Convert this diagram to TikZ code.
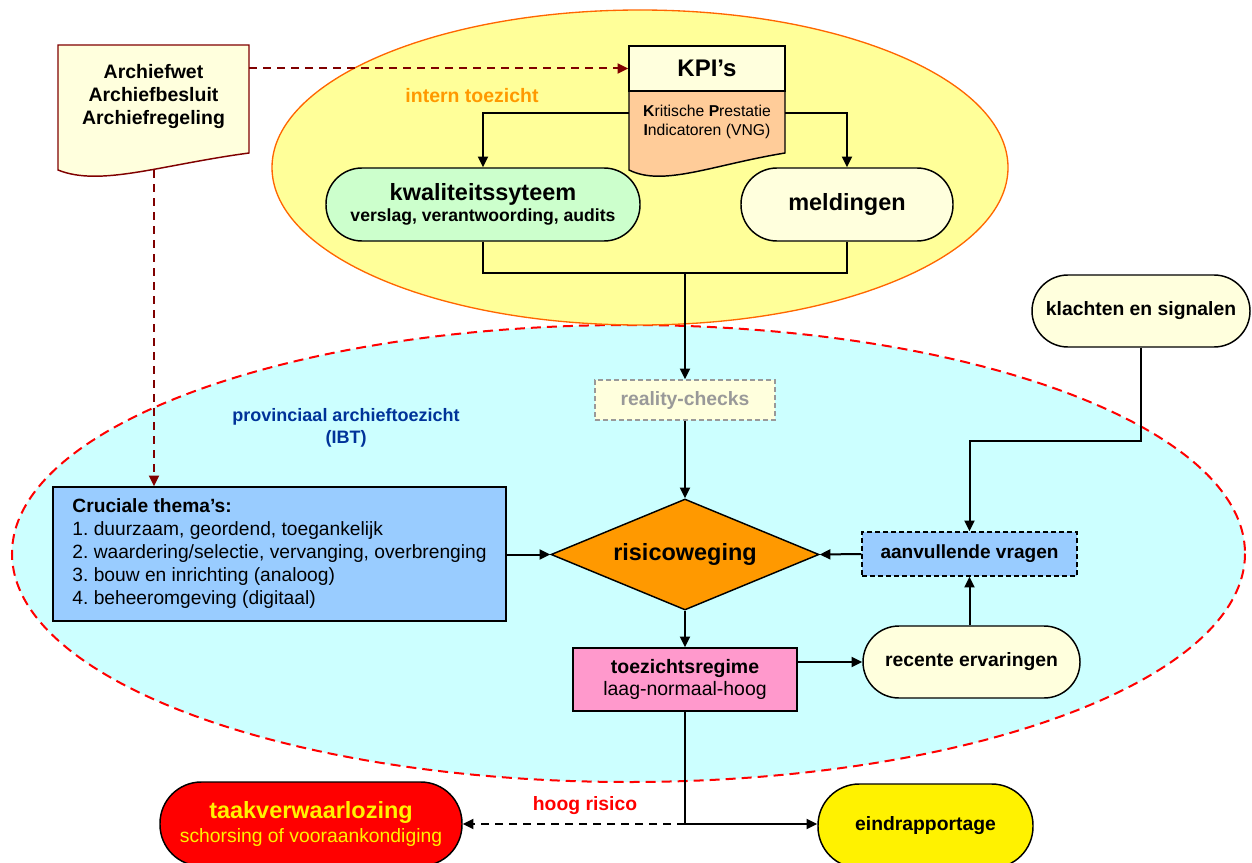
\documentclass[tikz,border=0pt]{standalone}
\usepackage{fontspec}
\setmainfont{Liberation Sans}
\usetikzlibrary{shapes.geometric,arrows.meta,calc}
\definecolor{ellyellow}{HTML}{FFFF99}
\definecolor{ellorange}{HTML}{FF6600}
\definecolor{ellcyan}{HTML}{CCFFFF}
\definecolor{docyellow}{HTML}{FFFFDD}
\definecolor{darkred}{HTML}{800000}
\definecolor{peach}{HTML}{FFCC99}
\definecolor{lgreen}{HTML}{CCFFCC}
\definecolor{lblue}{HTML}{99CCFF}
\definecolor{dorange}{HTML}{FF9900}
\definecolor{pinkbox}{HTML}{FF99CC}
\definecolor{greytxt}{HTML}{999999}
\definecolor{navy}{HTML}{003399}
\newcommand{\fsz}[2]{\fontsize{#1}{#2}\selectfont}
\frenchspacing
\tikzset{
  conn/.style={line width=1.5pt, draw=black},
  arr/.style={conn, -{Triangle[length=8pt,width=7.5pt]}},
  redarr/.style={line width=1.5pt, draw=darkred, dash pattern=on 6pt off 4.5pt, -{Triangle[length=8pt,width=7.5pt]}},
  box/.style={draw=black, line width=1.1pt, inner sep=0pt, align=center},
  pillbox/.style={box, rounded corners=#1},
}
\begin{document}
\begin{tikzpicture}[x=0.75pt,y=-0.75pt]
\useasboundingbox (0,0) rectangle (1252,863);
\clip (0,0) rectangle (1252,863);
% background ellipses
\draw[fill=ellcyan, draw=red, line width=1.5pt, dash pattern=on 7.5pt off 4.5pt] (628.5,553.5) ellipse [x radius=616.5, y radius=228.5];
\draw[fill=ellyellow, draw=ellorange, line width=1pt] (640,167.5) ellipse [x radius=368, y radius=157.5];

% labels
\node[font=\fsz{14.6}{17}\bfseries, text=dorange] (intern) at (472,96) {intern toezicht};
\node[font=\fsz{13.5}{17}\bfseries, text=navy, align=center] (prov) at (346,428) {provinciaal archieftoezicht\\(IBT)};

% Archief document
\path[draw=darkred, fill=docyellow, line width=1.1pt] (58,45) -- (249,45) -- (249,153) .. controls (160,165) and (100,187) .. (58,170) -- cycle;
\node[font=\fsz{14.6}{17.25}\bfseries, align=center] (arch) at (153.5,97) {Archiefwet\\Archiefbesluit\\Archiefregeling};
\coordinate (archR) at (249,68.5);
\coordinate (archB) at (154,170);

% KPI
\path[draw=black, fill=peach, line width=1.1pt] (629,91) -- (785,91) -- (785,153) .. controls (712,165) and (663,187) .. (629,170) -- cycle;
\node[box, fill=docyellow, minimum width=117pt, minimum height=33.75pt, font=\fsz{18}{20}\bfseries] (kpi) at (707,68.5) {KPI’s};
\node[font=\fsz{11.8}{14.5}, align=center] (kpitxt) at (707,122) {{\bfseries K}ritische {\bfseries P}restatie\\{\bfseries I}ndicatoren (VNG)};
\coordinate (kpiL) at (629,113);
\coordinate (kpiR) at (785,113);

% intern nodes
\node[pillbox=27pt, fill=lgreen, minimum width=235.5pt, minimum height=54.75pt] (kwal) at (483,204.5)
  {{\fsz{17.6}{19}\bfseries kwaliteitssyteem}\\[2pt]{\fsz{13.2}{15}\bfseries verslag, verantwoording, audits}};
\node[pillbox=27pt, fill=docyellow, minimum width=159pt, minimum height=54.75pt, font=\fsz{17.6}{19}\bfseries] (meld) at (847,204.5) {meldingen};

% provinciaal nodes
\node[box, draw=greytxt, dash pattern=on 3.75pt off 2.25pt, fill=docyellow, minimum width=135pt, minimum height=30pt, text=greytxt, font=\fsz{14.5}{16}\bfseries] (reality) at (685,400) {reality-checks};
\node[diamond, aspect=2.4, draw=black, line width=1.1pt, fill=dorange, inner sep=0pt, minimum width=201pt, minimum height=83.25pt, font=\fsz{17.6}{19}\bfseries] (risk) at (685,554.5) {risicoweging};
\node[box, fill=lblue, minimum width=339.75pt, minimum height=100.5pt, align=left, font=\fsz{14.4}{17.25}] (cruc) at (279.5,554)
  {{\bfseries Cruciale thema’s:}\\1. duurzaam, geordend, toegankelijk\\2. waardering/selectie, vervanging, overbrenging\\3. bouw en inrichting (analoog)\\4. beheeromgeving (digitaal)};
\node[box, dash pattern=on 3.75pt off 2.25pt, fill=lblue, minimum width=161.25pt, minimum height=33pt, font=\fsz{14.3}{16}\bfseries] (aanv) at (969.5,554) {aanvullende vragen};
\node[pillbox=27pt, fill=docyellow, minimum width=163.5pt, minimum height=54pt, font=\fsz{14.5}{16}\bfseries] (klacht) at (1141,311) {klachten en signalen};
\node[box, fill=pinkbox, minimum width=168pt, minimum height=47.25pt, font=\fsz{14.6}{17}] (regime) at (685,679.5) {{\bfseries toezichtsregime}\\laag-normaal-hoog};
\node[pillbox=27pt, fill=docyellow, minimum width=162.75pt, minimum height=54pt, font=\fsz{14.5}{16}\bfseries] (recent) at (971.5,662) {recente ervaringen};

% outcome nodes
\node[pillbox=31pt, fill=red, minimum width=226.5pt, minimum height=63pt, text=yellow] (taak) at (311,824)
  {{\fsz{17.6}{19}\bfseries taakverwaarlozing}\\[3pt]{\fsz{14.5}{16}schorsing of vooraankondiging}};
\node[pillbox=31pt, fill=yellow, minimum width=161.25pt, minimum height=63pt, font=\fsz{14.5}{16}\bfseries] (eind) at (925.5,826) {eindrapportage};
\node[font=\fsz{14.5}{16}\bfseries, text=red] (hoog) at (585,806) {hoog risico};

% connectors
\draw[redarr] (archR) -- (kpi.west);
\draw[redarr] (archB) -- (archB |- cruc.north);
\draw[arr] (kpiL) -| (kwal.north);
\draw[arr] (kpiR) -| (meld.north);
\coordinate (j1) at (685,273);
\draw[conn] (kwal.south) |- (j1) -| (meld.south);
\draw[arr] (j1) -- (reality.north);
\draw[arr] (reality.south) -- (risk.north);
\draw[arr] (cruc.east |- risk.west) -- (risk.west);
\draw[arr] (aanv.west) -- (risk.east);
\draw[arr] (klacht.south) -- ++(0,93) -| (aanv.north);
\draw[arr] (risk.south) -- (regime.north);
\draw[arr] (regime.east |- recent.west) -- (recent.west);
\draw[arr] (recent.north -| aanv.south) -- (aanv.south);
\coordinate (j2) at (685,824);
\draw[conn] (regime.south) -- (j2);
\draw[arr] (j2) -- (eind.west |- j2);
\draw[arr, dash pattern=on 6pt off 4.5pt] (j2) -- (taak.east);
\end{tikzpicture}
\end{document}
